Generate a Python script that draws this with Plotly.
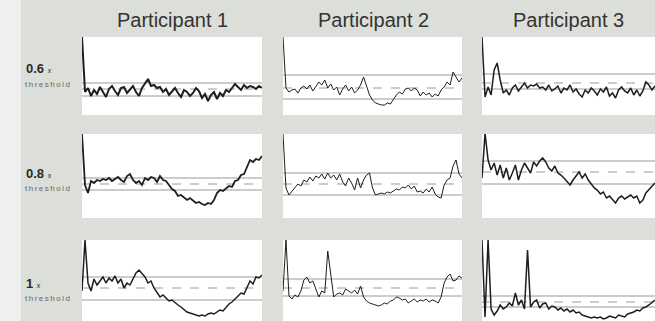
import plotly.graph_objects as go

participants = ["Participant 1", "Participant 2", "Participant 3"]
levels = ["0.6", "0.8", "1"]

# signal traces (arbitrary amplitude units), rows = threshold level, cols = participant
p1_06 = [78, 23, 27, 19, 25, 21, 28, 23, 18, 26, 29, 24, 20, 27, 28, 22, 25, 29, 23, 19, 27, 31, 36, 29, 30,
         27, 28, 23, 26, 20, 24, 27, 22, 18, 25, 23, 19, 22, 27, 24, 17, 21, 14, 20, 23, 16, 22, 19, 25, 23,
         27, 31, 28, 25, 30, 27, 29, 28, 26, 29, 27]
p2_06 = [78, 27, 23, 25, 26, 22, 27, 29, 26, 30, 24, 28, 33, 30, 35, 27, 31, 25, 28, 20, 26, 30, 24, 28, 22,
         25, 30, 38, 30, 20, 15, 12, 11, 10, 10, 12, 11, 16, 20, 23, 21, 26, 27, 24, 27, 25, 19, 23, 20, 22,
         18, 21, 19, 25, 28, 33, 30, 43, 38, 33, 37]
p3_06 = [78, 18, 28, 20, 45, 52, 35, 22, 25, 20, 27, 30, 24, 28, 32, 27, 30, 29, 31, 27, 28, 25, 30, 24, 26,
         29, 22, 27, 25, 30, 23, 26, 21, 18, 25, 22, 27, 24, 20, 26, 23, 28, 19, 22, 17, 25, 28, 24, 22, 27,
         20, 25, 19, 24, 33, 30, 25, 29]
p1_08 = [84, 33, 25, 37, 35, 38, 37, 39, 38, 40, 37, 39, 41, 38, 36, 42, 44, 38, 35, 37, 33, 40, 38, 41, 40,
         36, 42, 38, 37, 33, 29, 27, 22, 23, 20, 18, 20, 17, 15, 16, 14, 13, 15, 14, 18, 25, 28, 27, 30, 32,
         31, 37, 38, 43, 44, 52, 58, 56, 59, 58, 62]
p2_08 = [84, 30, 23, 27, 31, 34, 32, 38, 36, 41, 37, 42, 40, 44, 39, 45, 40, 43, 38, 44, 36, 32, 40, 35, 28,
         40, 30, 38, 43, 45, 30, 23, 24, 25, 24, 26, 25, 27, 29, 28, 31, 30, 33, 29, 32, 26, 27, 25, 29, 26,
         31, 24, 21, 20, 33, 38, 40, 52, 58, 44, 40]
p3_08 = [40, 85, 58, 48, 55, 43, 53, 40, 50, 38, 45, 53, 38, 48, 55, 50, 45, 56, 52, 57, 60, 56, 50, 47, 52,
         45, 43, 40, 36, 33, 38, 42, 46, 40, 44, 38, 34, 30, 28, 24, 26, 20, 22, 18, 15, 20, 22, 19, 21, 23,
         20, 22, 15, 18, 25, 28, 31, 35]
p1_10 = [30, 81, 38, 30, 42, 36, 40, 44, 38, 43, 40, 45, 38, 42, 33, 38, 36, 42, 48, 51, 47, 44, 38, 40, 33,
         28, 24, 26, 23, 20, 21, 18, 16, 14, 11, 9, 8, 7, 6, 5, 6, 5, 7, 8, 7, 9, 11, 10, 14, 17,
         19, 22, 24, 28, 27, 34, 40, 37, 44, 43, 46]
p2_10 = [30, 81, 25, 22, 26, 24, 30, 41, 44, 38, 40, 32, 24, 30, 28, 70, 45, 24, 27, 28, 26, 32, 30, 28, 31,
         27, 35, 24, 20, 18, 17, 16, 15, 16, 18, 17, 20, 21, 24, 23, 21, 22, 18, 20, 22, 19, 21, 20, 22, 19,
         21, 20, 18, 24, 38, 44, 47, 40, 41, 45, 43]
p3_10 = [81, 4, 81, 12, 6, 10, 16, 12, 14, 18, 15, 28, 16, 21, 12, 71, 14, 19, 21, 13, 17, 18, 12, 15, 14,
         11, 13, 10, 12, 9, 11, 8, 9, 6, 5, 4, 3, 4, 3, 4, 2, 3, 5, 4, 3, 6, 5, 4, 7, 8,
         9, 11, 10, 13, 14, 16, 19, 21]

series = [[p1_06, p2_06, p3_06], [p1_08, p2_08, p3_08], [p1_10, p2_10, p3_10]]

# threshold reference levels (upper, middle, lower) per panel
thr_06 = [[32, 26, 19], [40, 27, 16], [41, 32, 26]]
thr_08 = [[40, 34, 28], [45, 34, 23], [57, 46, 34]]
thr_10 = [[44, 33, 21], [42, 33, 25], [25, 19, 14]]
thresholds = [thr_06, thr_08, thr_10]
row_ymax = [78, 84, 81]

W, H = 655, 321
col_px = [(82, 262), (283, 462), (482, 655)]
row_px = [(37, 115), (134, 218), (240, 321)]
widths = [[2.0, 1.0, 1.5], [1.8, 1.0, 1.5], [1.5, 1.0, 1.5]]

fig = go.Figure()
layout = {}
shapes = [dict(type="rect", xref="paper", yref="paper", x0=0, x1=21 / W, y0=0, y1=1,
               fillcolor="#eef0ee", line=dict(width=0), layer="below")]
for r in range(3):
    for c in range(3):
        k = r * 3 + c + 1
        ax = "" if k == 1 else str(k)
        vals = series[r][c]
        fig.add_trace(go.Scatter(x=list(range(len(vals))), y=vals, mode="lines",
                                 line=dict(color="#1e1e1e", width=widths[r][c]),
                                 xaxis="x" + ax, yaxis="y" + ax, showlegend=False,
                                 hoverinfo="skip"))
        x0, x1 = col_px[c]
        t, b = row_px[r]
        layout["xaxis" + ax] = dict(domain=[x0 / W, x1 / W], range=[0, len(vals) - 1],
                                    visible=False, fixedrange=True, anchor="y" + ax)
        layout["yaxis" + ax] = dict(domain=[1 - b / H, 1 - t / H], range=[0, row_ymax[r]],
                                    visible=False, fixedrange=True, anchor="x" + ax)
        for j, lv in enumerate(thresholds[r][c]):
            shapes.append(dict(type="line", xref="x" + ax + " domain", yref="y" + ax,
                               x0=0, x1=1, y0=lv, y1=lv, layer="below",
                               line=dict(color="#9a9a9a", width=1,
                                         dash="solid" if j != 1 else "dash")))

annotations = []
title_x = [172, 373, 568]
for c, name in enumerate(participants):
    annotations.append(dict(text=name, x=title_x[c] / W, y=1 - 20 / H, xref="paper", yref="paper",
                            showarrow=False, xanchor="center", yanchor="middle",
                            font=dict(family="Liberation Sans, Arial", size=20, color="#333333")))
lab_y = [68, 174, 283]
thr_y = [85, 189, 298]
for r, lv in enumerate(levels):
    annotations.append(dict(text="<b>" + lv + "</b> <span style='font-size:7px'>x</span>",
                            x=24 / W, y=1 - lab_y[r] / H, xref="paper", yref="paper",
                            showarrow=False, xanchor="left", yanchor="middle",
                            font=dict(family="Liberation Sans, Arial", size=13, color="#2a2a2a")))
    annotations.append(dict(text="<span style='letter-spacing:1.5px'>threshold</span>",
                            x=23 / W, y=1 - thr_y[r] / H, xref="paper", yref="paper",
                            showarrow=False, xanchor="left", yanchor="middle",
                            font=dict(family="Liberation Sans, Arial", size=8, color="#666666")))

fig.update_layout(width=W, height=H, autosize=False, margin=dict(l=0, r=0, t=0, b=0),
                  paper_bgcolor="#dcdfd9", plot_bgcolor="#ffffff",
                  shapes=shapes, annotations=annotations, **layout)
fig.write_html("out.html", config={"displayModeBar": False},
               post_script="document.body.style.margin='0px';document.body.style.overflow='hidden';")
